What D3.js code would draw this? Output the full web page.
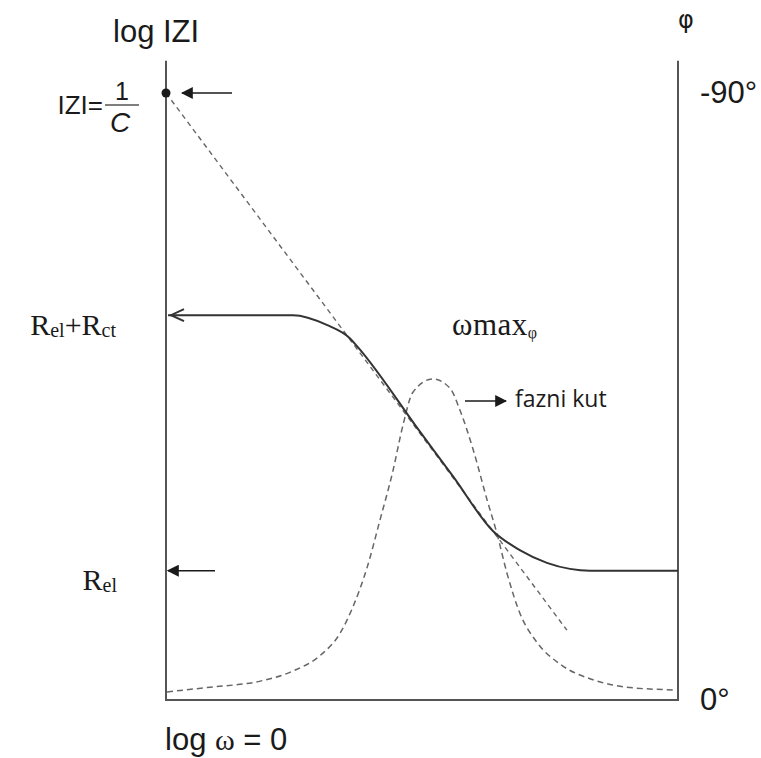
<!DOCTYPE html>
<html>
<head>
<meta charset="utf-8">
<script src="https://cdn.jsdelivr.net/npm/d3@7"></script>
<style>
  body { margin: 0; background: #fff; }
  svg { display: block; }
  .sans { font-family: "Liberation Sans", Arial, sans-serif; }
  .serif { font-family: "Liberation Serif", "Times New Roman", serif; }
</style>
</head>
<body>
<div id="chart-ctn"></div>
<script>
// Chart values (log omega in arbitrary units 0..10, log|Z| in arbitrary units, phase in degrees)
const logOmega = [0.04, 2.48, 3.14, 3.59, 3.73, 4.96, 5.61, 6.39, 6.91, 7.44, 7.89, 8.28, 10];
const logZ = [6.34, 6.34, 6.18, 5.96, 5.83, 4.42, 3.68, 2.78, 2.47, 2.26, 2.16, 2.13, 2.13];

// asymptote |Z| = 1/(omega C)
const asymOmega = [0, 7.83];
const asymZ = [10, 1.15];

const phaseOmega = [0.02, 0.86, 1.84, 2.48, 3.01, 3.40, 3.65, 3.93, 4.18, 4.43, 4.63, 4.82, 5.21,
                    5.55, 5.74, 6.00, 6.27, 6.46, 6.66, 6.91, 7.25, 7.70, 8.34, 9.00, 9.90];
const phaseDeg = [-1.2, -1.9, -2.8, -4.3, -6.6, -9.9, -13.8, -19.7, -26.7, -33.9, -40.8, -45.6, -47.6,
                  -46.2, -43.0, -37.1, -29.7, -24.8, -18.8, -12.9, -8.5, -5.3, -3.0, -1.9, -1.5];

const levelLabels = ["1/C", "Rel+Rct", "Rel"];
const levelValues = [10, 6.34, 2.13];
const phaseTicks = [0, -90];

let width = 761;
let height = 758;

let svg = d3.select("#chart-ctn").append("svg")
    .attr("width", width)
    .attr("height", height);

let x = d3.scaleLinear().domain([0, 10]).range([166, 678]);
let yZ = d3.scaleLinear().domain([0, 10]).range([700, 93]);
let yPhi = d3.scaleLinear().domain([0, -90]).range([700, 93]);

const ink = "#1a1a1a";

// arrow head
svg.append("defs").append("marker")
    .attr("id", "head")
    .attr("viewBox", "0 0 10 10")
    .attr("refX", 9).attr("refY", 5)
    .attr("markerWidth", 12).attr("markerHeight", 12)
    .attr("markerUnits", "userSpaceOnUse")
    .attr("orient", "auto")
    .append("path")
    .attr("d", "M0,0 L10,5 L0,10 Z")
    .attr("fill", ink);

// frame: left, bottom, right
let axisTop = yZ(10.53);
svg.append("line")
    .attr("x1", x(0)).attr("x2", x(0))
    .attr("y1", axisTop).attr("y2", yZ(0))
    .attr("stroke", "#555").attr("stroke-width", 2);
svg.append("line")
    .attr("x1", x(0) - 1).attr("x2", x(10) + 1)
    .attr("y1", yZ(0)).attr("y2", yZ(0))
    .attr("stroke", "#555").attr("stroke-width", 2);
svg.append("line")
    .attr("x1", x(10)).attr("x2", x(10))
    .attr("y1", axisTop).attr("y2", yZ(0))
    .attr("stroke", "#555").attr("stroke-width", 2);

// right phase axis labels
let rightAxis = svg.append("g")
    .attr("transform", `translate(${x(10)},0)`)
    .call(d3.axisRight(yPhi).tickValues(phaseTicks).tickSize(0).tickPadding(22)
        .tickFormat((d) => d + "°"));
rightAxis.select(".domain").remove();
rightAxis.selectAll("text")
    .attr("class", "sans")
    .style("font-size", "31px")
    .attr("fill", ink);

// asymptote
svg.append("path")
    .datum(asymOmega.map((w, i) => [w, asymZ[i]]))
    .attr("d", d3.line().x((d) => x(d[0])).y((d) => yZ(d[1])))
    .attr("fill", "none")
    .attr("stroke", "#666")
    .attr("stroke-width", 1.4)
    .attr("stroke-dasharray", "5,4");

// phase curve
svg.append("path")
    .datum(phaseOmega.map((w, i) => [w, phaseDeg[i]]))
    .attr("d", d3.line().curve(d3.curveMonotoneX).x((d) => x(d[0])).y((d) => yPhi(d[1])))
    .attr("fill", "none")
    .attr("stroke", "#666")
    .attr("stroke-width", 1.5)
    .attr("stroke-dasharray", "6,4");

// |Z| curve
svg.append("path")
    .datum(logOmega.map((w, i) => [w, logZ[i]]))
    .attr("d", d3.line().curve(d3.curveMonotoneX).x((d) => x(d[0])).y((d) => yZ(d[1])))
    .attr("fill", "none")
    .attr("stroke", "#333")
    .attr("stroke-width", 2);

// open arrow head at Rel+Rct
let yRR = yZ(levelValues[1]);
svg.append("path")
    .attr("d", `M${x(0) + 18},${yRR - 6} L${x(0) + 5},${yRR} L${x(0) + 18},${yRR + 6}`)
    .attr("fill", "none")
    .attr("stroke", "#333")
    .attr("stroke-width", 2);

// dot at 1/C
svg.append("circle")
    .attr("cx", x(0)).attr("cy", yZ(levelValues[0]))
    .attr("r", 4.5).attr("fill", ink);

// small arrows pointing at the axis
[[levelValues[0], 66, 16], [levelValues[2], 49, 2]].forEach(([v, from, to]) => {
    svg.append("line")
        .attr("x1", x(0) + from).attr("x2", x(0) + to)
        .attr("y1", yZ(v)).attr("y2", yZ(v))
        .attr("stroke", ink).attr("stroke-width", 1.5)
        .attr("marker-end", "url(#head)");
});

// fazni kut arrow
svg.append("line")
    .attr("x1", 465).attr("x2", 506)
    .attr("y1", 401).attr("y2", 401)
    .attr("stroke", ink).attr("stroke-width", 1.5)
    .attr("marker-end", "url(#head)");

// texts
svg.append("text").attr("class", "sans")
    .attr("x", 113).attr("y", 42)
    .style("font-size", "31px").attr("fill", ink)
    .text("log IZI");

svg.append("text")
    .attr("x", 686).attr("y", 28).attr("text-anchor", "middle")
    .style("font-family", "'DejaVu Sans', sans-serif")
    .style("font-size", "24px").attr("fill", ink)
    .text("φ");

// |Z| = 1/C
svg.append("text").attr("class", "sans")
    .attr("x", 103).attr("y", 114).attr("text-anchor", "end")
    .style("font-size", "26px").attr("fill", ink)
    .text("IZI=");
svg.append("text").attr("class", "sans")
    .attr("x", 122).attr("y", 100).attr("text-anchor", "middle")
    .style("font-size", "25px").attr("fill", ink)
    .text("1");
svg.append("line")
    .attr("x1", 105).attr("x2", 139).attr("y1", 105).attr("y2", 105)
    .attr("stroke", "#555").attr("stroke-width", 1.5);
svg.append("text").attr("class", "sans")
    .attr("x", 120).attr("y", 132).attr("text-anchor", "middle")
    .style("font-size", "28px").style("font-style", "italic").attr("fill", ink)
    .text("C");

// Rel+Rct
let trr = svg.append("text").attr("class", "serif")
    .attr("x", 116).attr("y", yRR + 20).attr("text-anchor", "end")
    .style("font-size", "30px").attr("fill", ink);
trr.append("tspan").text("R");
trr.append("tspan").style("font-size", "20px").attr("dy", 2).text("el");
trr.append("tspan").attr("dy", -2).text("+R");
trr.append("tspan").style("font-size", "20px").attr("dy", 2).text("ct");

let trel = svg.append("text").attr("class", "serif")
    .attr("x", 117).attr("y", yZ(levelValues[2]) + 19).attr("text-anchor", "end")
    .style("font-size", "30px").attr("fill", ink);
trel.append("tspan").text("R");
trel.append("tspan").style("font-size", "20px").attr("dy", 2).text("el");

// omega max phi
let tom = svg.append("text").attr("class", "serif")
    .attr("x", 452).attr("y", 335)
    .style("font-size", "31px").style("letter-spacing", "0.5px").attr("fill", ink);
tom.append("tspan").text("ωmax");
tom.append("tspan").style("font-size", "16px").attr("dy", 3).text("φ");

svg.append("text")
    .attr("x", 515).attr("y", 407)
    .style("font-family", "'Open Sans', sans-serif")
    .style("font-size", "23px").attr("fill", ink)
    .text("fazni kut");

// log omega = 0
let tlw = svg.append("text").attr("class", "sans")
    .attr("x", 165).attr("y", 750)
    .style("font-size", "31px").attr("fill", ink);
tlw.append("tspan").text("log ");
tlw.append("tspan").style("font-family", "'Liberation Serif', serif").style("font-size", "30px").text("ω");
tlw.append("tspan").text(" = 0");
</script>
</body>
</html>
